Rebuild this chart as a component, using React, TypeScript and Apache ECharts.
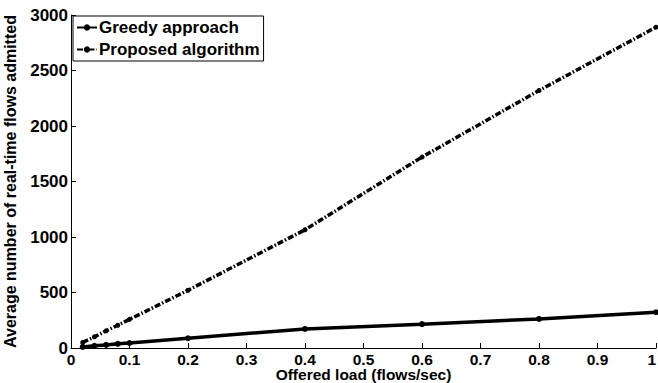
import React, { useEffect, useRef } from "react";
import * as echarts from "echarts";

const loads = [0.02, 0.04, 0.06, 0.08, 0.1, 0.2, 0.4, 0.6, 0.8, 1.0];
const greedy = [10, 20, 28, 38, 45, 88, 172, 215, 262, 322];
const proposed = [50, 100, 155, 205, 258, 520, 1065, 1720, 2320, 2890];

const font = "Liberation Sans, Arial, sans-serif";

export default function App() {
  const ref = useRef<HTMLDivElement>(null);
  useEffect(() => {
    const chart = echarts.init(ref.current!, null, { renderer: "svg" });
    chart.setOption({
      animation: false,
      backgroundColor: "#fff",
      grid: { left: 71, right: 2, top: 15, bottom: 35, containLabel: false, outerBoundsMode: "none" },
      legend: {
        left: 73,
        top: 16,
        orient: "vertical",
        itemWidth: 20,
        itemHeight: 8,
        itemGap: 5,
        padding: [3, 4, 3, 3],
        borderColor: "#000",
        borderWidth: 1,
        backgroundColor: "#fff",
        textStyle: { fontFamily: font, fontWeight: "bold", fontSize: 17, color: "#000", padding: [0, 0, 0, -3] },
        data: ["Greedy approach", "Proposed algorithm"],
      },
      xAxis: {
        type: "value",
        min: 0,
        max: 1,
        interval: 0.1,
        name: "Offered load (flows/sec)",
        nameLocation: "middle",
        nameGap: 19,
        nameMoveOverlap: false,
        nameTextStyle: { fontFamily: font, fontWeight: "bold", fontSize: 15.5, color: "#000", lineHeight: 15 },
        axisLine: { lineStyle: { color: "#000", width: 1 } },
        axisTick: { inside: true, length: 5, lineStyle: { color: "#000" } },
        axisLabel: {
          fontFamily: font,
          fontWeight: "bold",
          fontSize: 15.5,
          lineHeight: 14,
          color: "#000",
          margin: 4,
          alignMaxLabel: "right",
          formatter: (v: number) => (v === 0 ? "0" : v === 1 ? "1" : v.toFixed(1)),
        },
        splitLine: { show: false },
      },
      yAxis: {
        type: "value",
        min: 0,
        max: 3000,
        interval: 500,
        name: "Average number of real-time flows admitted",
        nameLocation: "middle",
        nameGap: 53,
        nameMoveOverlap: false,
        nameTextStyle: { fontFamily: font, fontWeight: "bold", fontSize: 16, color: "#000" },
        axisLine: { show: true, lineStyle: { color: "#000", width: 1 } },
        axisTick: { show: true, inside: true, length: 5, lineStyle: { color: "#000" } },
        axisLabel: {
          fontFamily: font,
          fontWeight: "bold",
          fontSize: 17,
          color: "#000",
          margin: 3,
          formatter: (v: number) => String(v),
        },
        splitLine: { show: false },
      },
      series: [
        {
          name: "Greedy approach",
          type: "line",
          data: loads.map((x, i) => [x, greedy[i]]),
          symbol: "circle",
          symbolSize: 6,
          itemStyle: { color: "#000" },
          lineStyle: { color: "#000", width: 3.5 },
        },
        {
          name: "Proposed algorithm",
          type: "line",
          data: loads.map((x, i) => [x, proposed[i]]),
          symbol: "circle",
          symbolSize: 5,
          itemStyle: { color: "#000" },
          lineStyle: { color: "#000", width: 3.5, type: [6, 2, 1.5, 2] },
        },
      ],
    });
    return () => chart.dispose();
  }, []);
  return <div ref={ref} style={{ width: 658, height: 383, position: "absolute", left: 0, top: 0 }} />;
}
